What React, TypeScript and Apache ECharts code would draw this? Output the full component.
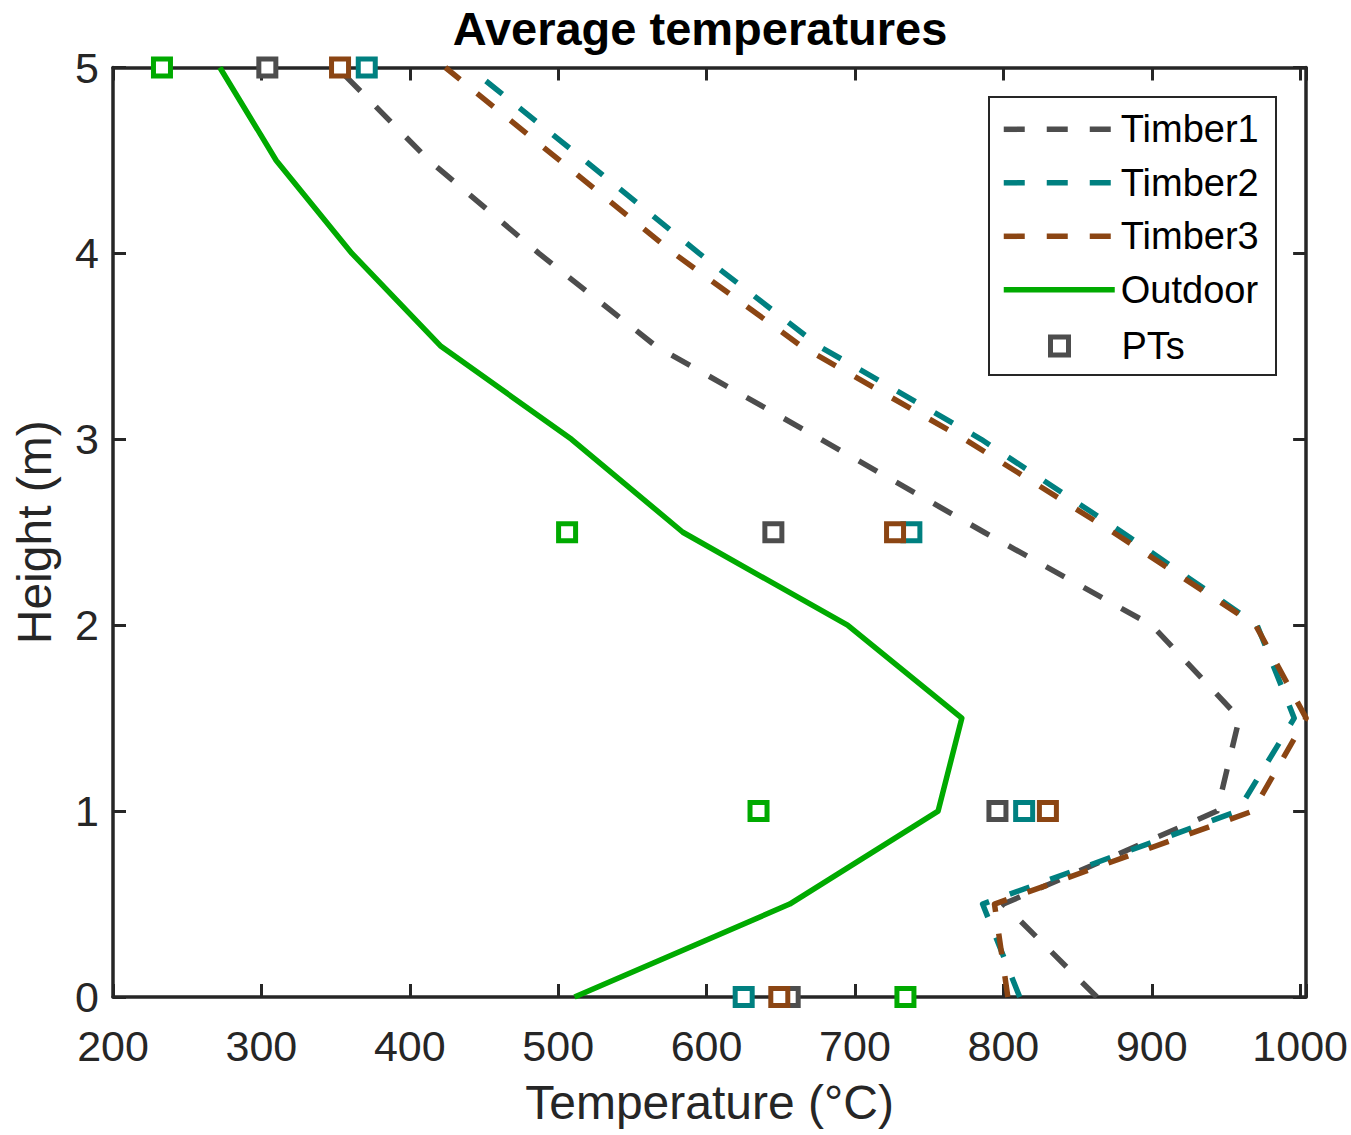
import { useEffect, useRef } from "react";
import * as echarts from "echarts";

// ---- data ----
const heights = [0, 0.5, 1, 1.5, 2, 2.5, 3, 3.5, 4, 4.5, 5];
const timber1 = [863, 800, 944, 959, 900, 787, 677, 566, 487, 413, 351];
const timber2 = [811, 786, 958, 996, 971, 880, 785, 676, 595, 518, 440];
const timber3 = [803, 794, 968, 1004, 970, 874, 774, 664, 578, 501, 424];
const outdoor = [511, 656, 756, 772, 695, 584, 509, 421, 361, 310, 272];

const ptHeights = [0, 1, 2.5, 5];
const ptTimber1 = [656, 796, 645, 304];
const ptTimber2 = [625, 814, 738, 371];
const ptTimber3 = [649, 830, 727, 353];
const ptOutdoor = [734, 635, 506, 233];

const seriesNames = ["Timber1", "Timber2", "Timber3", "Outdoor"];
const ptsName = "PTs";

const xMin = 200;
const xMax = 1004;
const xStep = 100;
const yMin = 0;
const yMax = 5;
const yStep = 1;

// ---- styles ----
const GRAY = "#4d4d4d";
const TEAL = "#008080";
const BROWN = "#8b4513";
const GREEN = "#00aa00";
const AX = "#262626";
const FONT = "'Liberation Sans', Arial, Helvetica, sans-serif";
const DASH = [21, 22];
const LW = 5.5;

export default function App() {
  const ref = useRef<HTMLDivElement>(null);

  useEffect(() => {
    document.body.style.margin = "0";
    if (!ref.current) return;
    const chart = echarts.init(ref.current, undefined, { renderer: "svg" });

    const pair = (xs: number[], ys: number[]) => xs.map((x, i) => [x, ys[i]]);

    const lineSeries = (name: string, xs: number[], color: string, dashed: boolean) => ({
      type: "line",
      name,
      data: pair(xs, heights),
      symbol: "none",
      xAxisIndex: 0,
      yAxisIndex: 0,
      lineStyle: { color, width: LW, type: dashed ? DASH : "solid", cap: "butt", join: "round" },
      itemStyle: { color },
      z: 2,
    });

    const ptGroups: [number[], string][] = [
      [ptTimber1, GRAY],
      [ptTimber2, TEAL],
      [ptTimber3, BROWN],
      [ptOutdoor, GREEN],
    ];
    const ptData: any[] = [];
    ptGroups.forEach(([xs, color]) => {
      xs.forEach((x, i) => {
        ptData.push({
          value: [x, ptHeights[i]],
          itemStyle: { color: "#fff", borderColor: color, borderWidth: 5, opacity: 1 },
        });
      });
    });

    const axisCommon = {
      axisLine: { show: true, onZero: false, lineStyle: { color: AX, width: 3.5 } },
      axisTick: { show: true, inside: true, length: 13, lineStyle: { color: AX, width: 3 } },
      splitLine: { show: false },
    };

    const option: any = {
      animation: false,
      backgroundColor: "#fff",
      title: {
        text: "Average temperatures",
        left: 700,
        top: 5,
        padding: 0,
        textAlign: "center",
        textStyle: { fontSize: 47, fontWeight: "bold", color: "#000", fontFamily: FONT },
      },
      grid: { left: 113, right: 44, top: 67.5, bottom: 138, containLabel: false },
      xAxis: [
        {
          type: "value",
          min: xMin,
          max: xMax,
          interval: xStep,
          position: "bottom",
          ...axisCommon,
          axisLabel: {
            formatter: (v: number) => (v % xStep === 0 ? String(v) : ""),
            fontSize: 43,
            color: AX,
            margin: 27.5,
            fontFamily: FONT,
          },
          name: "Temperature (°C)",
          nameLocation: "middle",
          nameGap: 81,
          nameTextStyle: { fontSize: 48, color: AX, fontFamily: FONT },
        },
        {
          type: "value",
          min: xMin,
          max: xMax,
          interval: xStep,
          position: "top",
          ...axisCommon,
          axisLabel: { show: false },
        },
      ],
      yAxis: [
        {
          type: "value",
          min: yMin,
          max: yMax,
          interval: yStep,
          position: "left",
          ...axisCommon,
          axisLabel: { fontSize: 43, color: AX, margin: 14, fontFamily: FONT },
          name: "Height (m)",
          nameLocation: "middle",
          nameGap: 55,
          nameTextStyle: { fontSize: 48, color: AX, fontFamily: FONT },
        },
        {
          type: "value",
          min: yMin,
          max: yMax,
          interval: yStep,
          position: "right",
          ...axisCommon,
          axisLabel: { show: false },
        },
      ],
      legend: [
        {
          data: seriesNames,
          orient: "vertical",
          left: 1001,
          top: 110.3,
          padding: 0,
          itemWidth: 111,
          itemHeight: 20,
          itemGap: 15.5,
          selectedMode: false,
          z: 10,
          lineStyle: { width: LW },
          itemStyle: { color: "rgba(0,0,0,0)", borderWidth: 0, opacity: 0 },
          textStyle: { fontSize: 38, color: "#000", fontFamily: FONT, padding: [0, 0, 0, 1] },
        },
        {
          data: [{ name: ptsName, icon: "rect" }],
          orient: "vertical",
          left: 1048,
          top: 327,
          padding: 0,
          itemWidth: 18,
          itemHeight: 18,
          selectedMode: false,
          z: 10,
          itemStyle: { color: "#fff", borderColor: GRAY, borderWidth: 5, opacity: 1 },
          textStyle: { fontSize: 38, color: "#000", fontFamily: FONT, padding: [0, 0, 0, 48] },
        },
      ],
      graphic: [
        {
          type: "rect",
          shape: { x: 989, y: 97, width: 287, height: 278 },
          style: { fill: "#fff", stroke: AX, lineWidth: 2 },
          z: 5,
        },
      ],
      series: [
        lineSeries(seriesNames[0], timber1, GRAY, true),
        lineSeries(seriesNames[1], timber2, TEAL, true),
        lineSeries(seriesNames[2], timber3, BROWN, true),
        lineSeries(seriesNames[3], outdoor, GREEN, false),
        {
          type: "scatter",
          name: ptsName,
          symbol: "rect",
          symbolSize: 17,
          xAxisIndex: 0,
          yAxisIndex: 0,
          itemStyle: { color: "#fff", borderColor: GRAY, borderWidth: 5, opacity: 1 },
          data: ptData,
          z: 3,
        },
      ],
    };

    chart.setOption(option);
    return () => chart.dispose();
  }, []);

  return (
    <div
      ref={ref}
      style={{ position: "absolute", left: 0, top: 0, width: 1351, height: 1135 }}
    />
  );
}
